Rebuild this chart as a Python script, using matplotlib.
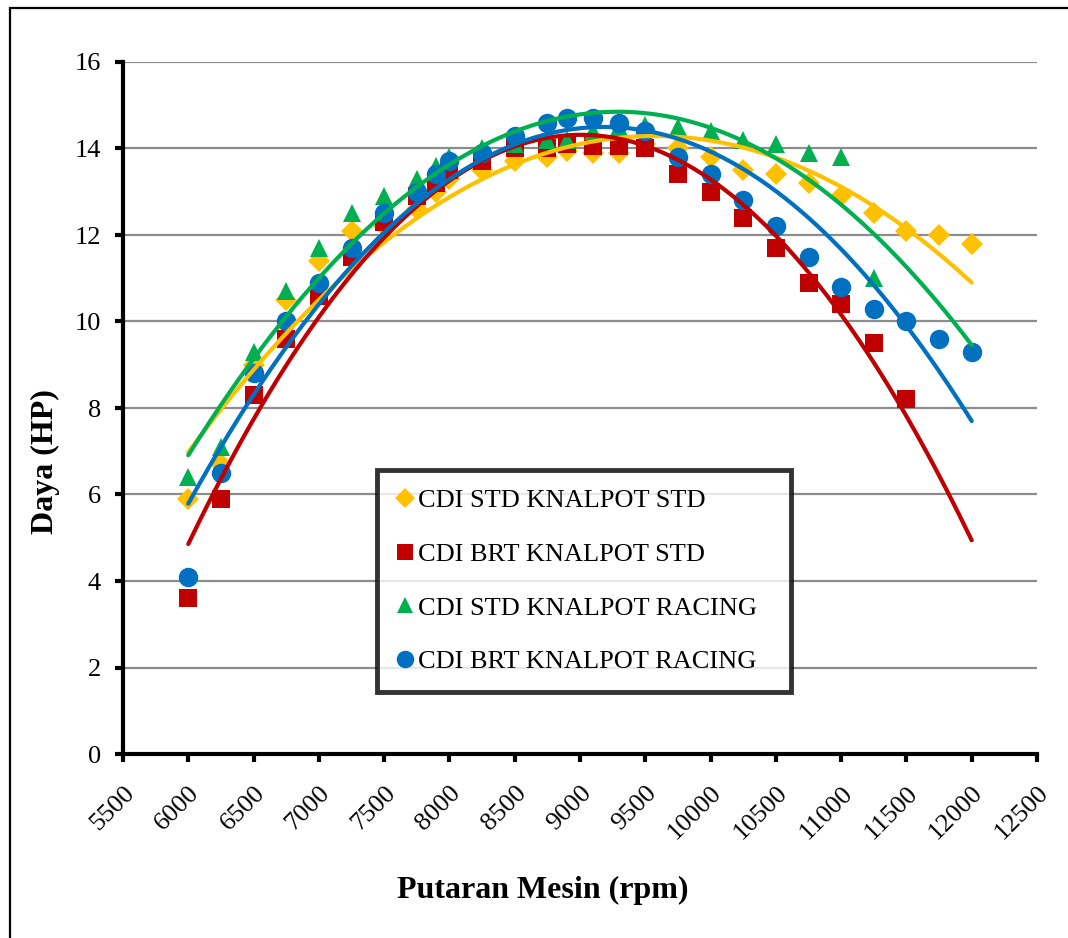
import numpy as np
import matplotlib
matplotlib.use("Agg")
import matplotlib.pyplot as plt
from matplotlib.patches import Rectangle

plt.rcParams["font.family"] = ["Liberation Serif", "DejaVu Serif"]

# ── data: daya (HP) vs putaran mesin (rpm) ──────────────────────────
rpm = [6000, 6250, 6500, 6750, 7000, 7250, 7500, 7750, 7900, 8000,
       8250, 8500, 8750, 8900, 9100, 9300, 9500, 9750, 10000, 10250,
       10500, 10750, 11000, 11250, 11500, 11750, 12000]

std_std = [5.9, 6.7, 9.0, 10.5, 11.4, 12.1, 12.2, 12.6, 13.0, 13.3,
           13.5, 13.7, 13.8, 13.95, 13.9, 13.9, 14.1, 14.0, 13.8, 13.5,
           13.4, 13.2, 12.9, 12.5, 12.1, 12.0, 11.8]
brt_std = [3.6, 5.9, 8.3, 9.6, 10.6, 11.5, 12.3, 12.9, 13.2, 13.5,
           13.7, 14.0, 14.0, 14.1, 14.05, 14.05, 14.0, 13.4, 13.0, 12.4,
           11.7, 10.9, 10.4, 9.5, 8.2, None, None]
std_racing = [6.4, 7.1, 9.3, 10.7, 11.7, 12.5, 12.9, 13.3, 13.6, 13.8,
              14.0, 14.1, 14.2, 14.2, 14.4, 14.5, 14.55, 14.5, 14.4, 14.2,
              14.1, 13.9, 13.8, 11.0, None, None, None]
brt_racing = [4.1, 6.5, 8.8, 10.0, 10.9, 11.7, 12.5, 13.0, 13.4, 13.7,
              13.9, 14.3, 14.6, 14.7, 14.7, 14.6, 14.4, 13.8, 13.4, 12.8,
              12.2, 11.5, 10.8, 10.3, 10.0, 9.6, 9.3]

labels = ["CDI STD KNALPOT STD", "CDI BRT KNALPOT STD",
          "CDI STD KNALPOT RACING", "CDI BRT KNALPOT RACING"]
colors = ["#FFC000", "#C00000", "#00B050", "#0070C0"]
markers = ["D", "s", "^", "o"]
msizes = [11, 13, 13, 14]
TREND_DEG = 2

W, H = 1068, 938
fig = plt.figure(figsize=(W / 100, H / 100), dpi=100)
ax = fig.add_axes([123 / W, 1 - 754 / H, 914 / W, 692 / H])

# outer frame around the chart (right/bottom run off the page)
fig.patches.append(Rectangle((10 / W, -0.1), 1.2, 1 - 8 / H + 0.1,
                             transform=fig.transFigure, fill=False,
                             edgecolor="black", linewidth=1.6, zorder=0))

series = [std_std, brt_std, std_racing, brt_racing]
handles = []
for vals, lab, c, m, ms in zip(series, labels, colors, markers, msizes):
    x = np.array([r for r, v in zip(rpm, vals) if v is not None], dtype=float)
    y = np.array([v for v in vals if v is not None], dtype=float)
    h, = ax.plot(x, y, linestyle="none", marker=m, markersize=ms,
                 color=c, markeredgewidth=0, label=lab, zorder=3)
    handles.append(h)

# 2nd-order polynomial trendlines
xs = np.linspace(6000, 12000, 300)
for vals, c in zip(series, colors):
    x = np.array([r for r, v in zip(rpm, vals) if v is not None], dtype=float)
    y = np.array([v for v in vals if v is not None], dtype=float)
    coef = np.polyfit(x, y, TREND_DEG)
    ax.plot(xs, np.polyval(coef, xs), color=c, linewidth=3,
            solid_capstyle="round", zorder=4)

ax.set_xlim(5500, 12500)
ax.set_ylim(0, 16)
ax.set_xticks(np.arange(5500, 12501, 500))
ax.set_yticks(np.arange(0, 17, 2))
ax.grid(axis="y", color="#8c8c8c", linewidth=1.6, zorder=0)
ax.set_axisbelow(True)

for side in ["top", "right"]:
    ax.spines[side].set_visible(False)
for side in ["left", "bottom"]:
    ax.spines[side].set_linewidth(3)
ax.tick_params(axis="both", direction="out", length=6, width=3,
               labelsize=19)
ax.tick_params(axis="y", pad=10)
ax.tick_params(axis="x", pad=14)
plt.setp(ax.get_xticklabels(), rotation=45, ha="right",
         rotation_mode="anchor")

ax.set_xlabel("Putaran Mesin (rpm)", fontsize=23, fontweight="bold")
ax.xaxis.set_label_coords((543 - 123) / 914, -(876 - 754) / 692)
ax.set_ylabel("Daya (HP)", fontsize=23, fontweight="bold")
ax.yaxis.set_label_coords(-(123 - 60) / 914, (754 - 462) / 692)

leg = ax.legend(handles=handles, loc="upper left",
                bbox_to_anchor=((377 - 123) / 914, (754 - 470) / 692,
                                (791 - 377) / 914, 0),
                mode="expand", borderaxespad=0, fontsize=19,
                frameon=True, fancybox=False, handlelength=0.7,
                handletextpad=0.15, labelspacing=1.15, borderpad=0.7,
                markerscale=0.9)
leg.get_frame().set_edgecolor("black")
leg.get_frame().set_linewidth(3.5)
leg.set_zorder(6)

fig.savefig("out.png", dpi=100)
